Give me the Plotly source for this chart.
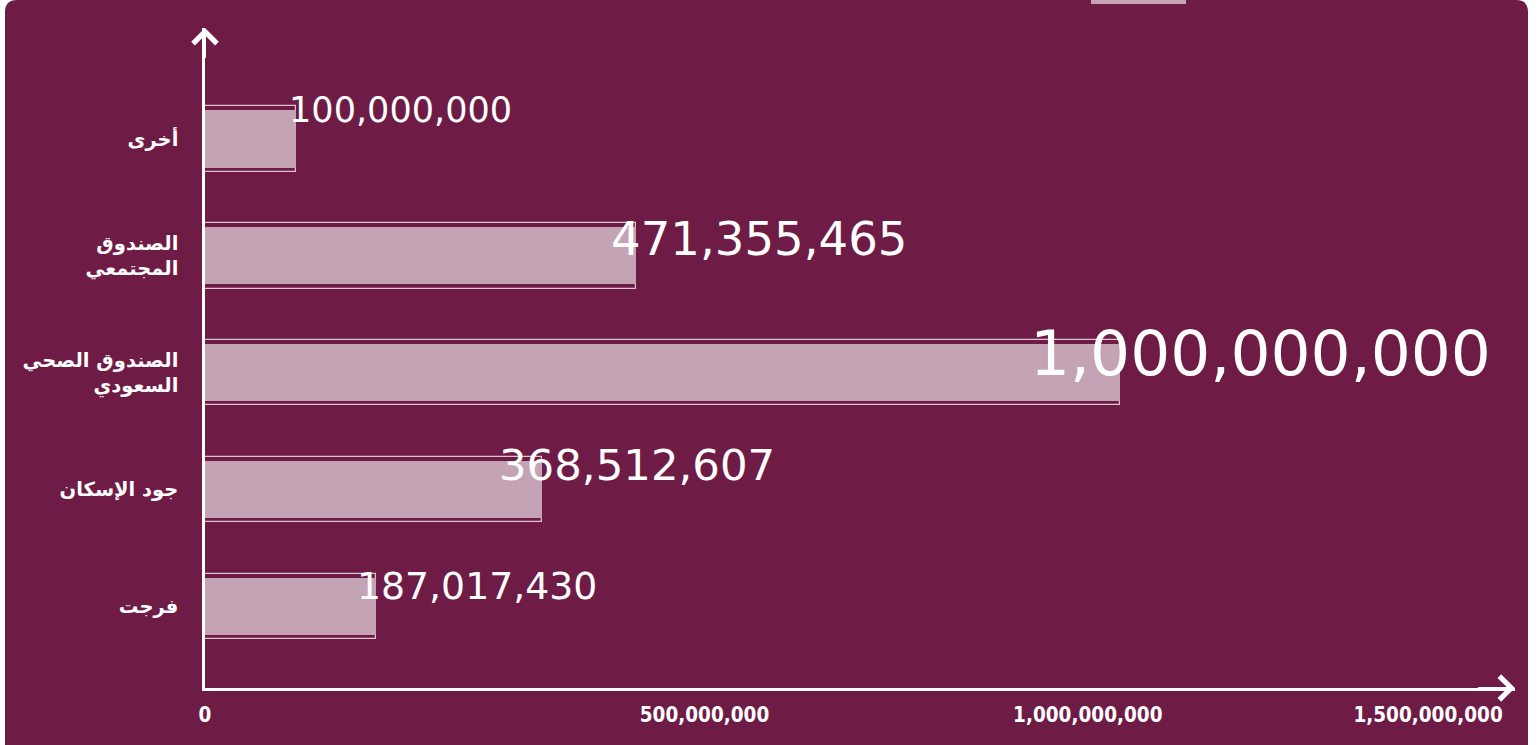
import plotly.graph_objects as go

# ---------------- data ----------------
CATEGORIES = ["فرجت", "جود الإسكان", "الصندوق الصحي<br>السعودي", "الصندوق<br>المجتمعي", "أخرى"]
VALUES = [187017430, 368512607, 1000000000, 471355465, 100000000]
TICK_LABELS = ["0", "500,000,000", "1,000,000,000", "1,500,000,000"]

# ---------------- style / layout ----------------
W, H = 1538, 745
ML, MR, MT, MB = 205, 23, 28, 57
PW, PH = W - ML - MR, H - MT - MB
BG = "#6e1b45"
BAR_FILL = "#c4a3b5"
XMAX = 1.432e9
TICK_POS = [0, 0.546e9, 0.965e9, 1.337e9]
LABEL_XSHIFT = [-21, -45, -92, -27, -9]
LABEL_YSHIFT = [20, 24, 19, 17, 29]


def px(x):
    return (x - ML) / PW


def py(y):
    return (H - MB - y) / PH


fig = go.Figure()

# outline rectangles
fig.add_trace(go.Bar(
    y=CATEGORIES, x=VALUES, orientation="h", width=0.56,
    marker=dict(color="rgba(0,0,0,0)", line=dict(color="rgba(255,255,255,0.75)", width=1.2)),
    hoverinfo="skip", showlegend=False,
))
# filled bars
fig.add_trace(go.Bar(
    y=CATEGORIES, x=VALUES, orientation="h", width=0.49,
    marker=dict(color=BAR_FILL, line=dict(width=0)),
    showlegend=False,
))

# value labels
for cat, v, xs, ys in zip(CATEGORIES, VALUES, LABEL_XSHIFT, LABEL_YSHIFT):
    size = 32 + 31 * v / 1e9
    fig.add_annotation(
        x=v, y=cat, text=f"{v:,}", showarrow=False,
        xanchor="left", yanchor="middle", xshift=xs, yshift=ys,
        font=dict(family="DejaVu Sans", size=size, color="white"),
    )

# axis arrowheads
fig.add_annotation(x=0, y=1, xref="paper", yref="paper", text=" ", showarrow=True,
                   ax=0, ay=40, arrowhead=4, arrowsize=2.3, arrowwidth=2.0,
                   arrowcolor="white", standoff=0, startstandoff=0)
fig.add_annotation(x=1, y=0, xref="paper", yref="paper", text=" ", showarrow=True,
                   ax=-40, ay=0, arrowhead=4, arrowsize=2.3, arrowwidth=2.0,
                   arrowcolor="white", standoff=0, startstandoff=0)

# card background with rounded corners
r = 12
x0, x1, y0, y1 = 5, 1528, 0, 760
path = (f"M {px(x0 + r)},{py(y0)} L {px(x1 - r)},{py(y0)} "
        f"Q {px(x1)},{py(y0)} {px(x1)},{py(y0 + r)} "
        f"L {px(x1)},{py(y1)} L {px(x0)},{py(y1)} "
        f"L {px(x0)},{py(y0 + r)} Q {px(x0)},{py(y0)} {px(x0 + r)},{py(y0)} Z")
fig.add_shape(type="path", path=path, xref="paper", yref="paper",
              fillcolor=BG, line=dict(width=0), layer="below")
# small pale tab at top
fig.add_shape(type="rect", xref="paper", yref="paper",
              x0=px(1091), x1=px(1186), y0=py(4), y1=py(0),
              fillcolor=BAR_FILL, line=dict(width=0), layer="below")

fig.update_layout(
    width=W, height=H,
    margin=dict(l=ML, r=MR, t=MT, b=MB, pad=0),
    paper_bgcolor="white", plot_bgcolor="rgba(0,0,0,0)",
    barmode="overlay", bargap=0,
    showlegend=False,
    xaxis=dict(
        range=[0, XMAX], showgrid=False, zeroline=False,
        showline=True, linecolor="white", linewidth=2.5,
        tickvals=TICK_POS, ticktext=TICK_LABELS, ticks="",
        ticklabelstandoff=7,
        tickfont=dict(family="DejaVu Sans Condensed", size=20.5, color="white", weight="bold"),
    ),
    yaxis=dict(
        range=[-0.70, 4.95], type="category", categoryorder="array", categoryarray=CATEGORIES,
        showgrid=False, zeroline=False,
        showline=True, linecolor="white", linewidth=2.5,
        ticks="", ticklabelstandoff=20,
        tickfont=dict(family="DejaVu Sans", size=19.5, color="white", weight="bold"),
    ),
)

fig.write_html("out.html", config={"displayModeBar": False},
               post_script="document.body.style.margin='0';")
